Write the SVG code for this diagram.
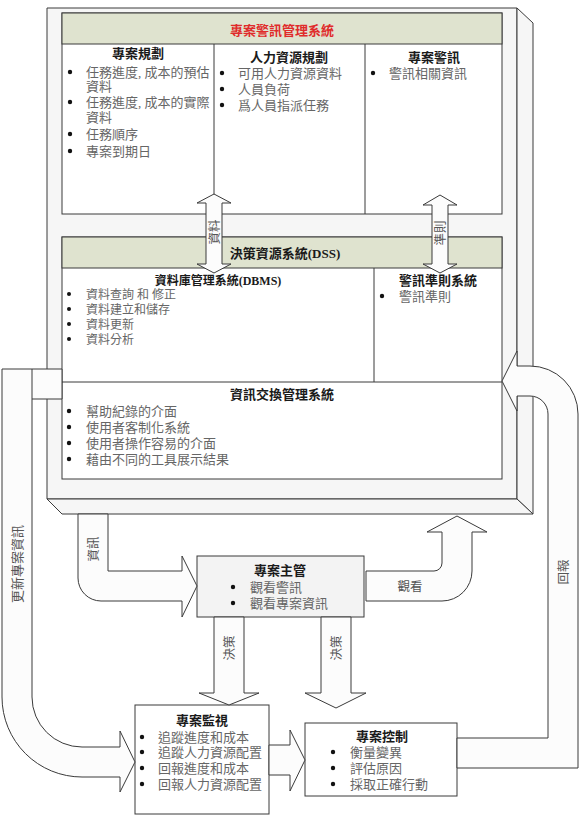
<svg xmlns="http://www.w3.org/2000/svg" width="581" height="821" viewBox="0 0 581 821">
<style>
.frame{fill:#f6f6f6;stroke:#3a3a3a;stroke-width:1}
.box{fill:#fff;stroke:#3a3a3a;stroke-width:1}
.gbox{fill:#f3f3f3;stroke:#3a3a3a;stroke-width:1}
.band{fill:#dfe3cf;stroke:#3a3a3a;stroke-width:1}
.ln{stroke:#3a3a3a;stroke-width:1;fill:none}
.arrow{fill:#fcfcfc;stroke:#3a3a3a;stroke-width:1;stroke-linejoin:miter}
text{font-family:"Liberation Serif","Noto Sans CJK TC",serif}
.h{font-weight:bold;fill:#1a1a1a;font-size:13px;text-anchor:middle}
.hs{font-size:12px}
.red{fill:#e02b2b}
.t{fill:#666;font-size:13px}
.ts{font-size:12px}
.lbl{fill:#555;font-size:12.5px;text-anchor:middle}
.b{fill:#111}
</style>
<g id="frame">
<polygon class="frame" points="47,8 517,8 517,499 47,499"/>
<polygon class="frame" points="517,8 533,23 533,514 517,499"/>
<polygon class="frame" points="47,499 517,499 533,514 62,514"/>
</g>
<g id="pams">
<rect class="box" x="62" y="13" width="440" height="201"/>
<rect class="band" x="62" y="13" width="440" height="31"/>
<text class="h red" x="282" y="35">專案警訊管理系統</text>
<line class="ln" x1="214" y1="44" x2="214" y2="214"/>
<line class="ln" x1="365" y1="44" x2="365" y2="214"/>
</g>
<g id="planning">
<text class="h" x="138" y="58">專案規劃</text>
<circle class="b" cx="70" cy="72" r="2.2"/><text class="t" x="86" y="77">任務進度, 成本的預估</text>
<text class="t" x="86" y="91">資料</text>
<circle class="b" cx="70" cy="102" r="2.2"/><text class="t" x="86" y="107">任務進度, 成本的實際</text>
<text class="t" x="86" y="122">資料</text>
<circle class="b" cx="70" cy="134" r="2.2"/><text class="t" x="86" y="139">任務順序</text>
<circle class="b" cx="70" cy="151" r="2.2"/><text class="t" x="86" y="156">專案到期日</text>
</g>
<g id="hr">
<text class="h" x="289" y="62">人力資源規劃</text>
<circle class="b" cx="222" cy="73" r="2.2"/><text class="t" x="238" y="78">可用人力資源資料</text>
<circle class="b" cx="222" cy="89" r="2.2"/><text class="t" x="238" y="94">人員負荷</text>
<circle class="b" cx="222" cy="105" r="2.2"/><text class="t" x="238" y="110">爲人員指派任務</text>
</g>
<g id="alert">
<text class="h" x="434" y="62">專案警訊</text>
<circle class="b" cx="373" cy="73" r="2.2"/><text class="t" x="389" y="78">警訊相關資訊</text>
</g>
<g id="dss">
<rect class="box" x="62" y="237" width="440" height="242"/>
<rect class="band" x="62" y="237" width="440" height="31"/>
<text class="h" x="285" y="258">決策資源系統(DSS)</text>
<line class="ln" x1="374" y1="268" x2="374" y2="382"/>
<line class="ln" x1="62" y1="382" x2="502" y2="382"/>
</g>
<g id="dbms">
<text class="h hs" x="218" y="284.5">資料庫管理系統(DBMS)</text>
<circle class="b" cx="69" cy="294" r="2"/><text class="t ts" x="86" y="298.5">資料查詢 和 修正</text>
<circle class="b" cx="69" cy="309" r="2"/><text class="t ts" x="86" y="313.5">資料建立和儲存</text>
<circle class="b" cx="69" cy="324" r="2"/><text class="t ts" x="86" y="328.5">資料更新</text>
<circle class="b" cx="69" cy="339" r="2"/><text class="t ts" x="86" y="343.5">資料分析</text>
</g>
<g id="rules">
<text class="h" x="438" y="285">警訊準則系統</text>
<circle class="b" cx="382" cy="296" r="2.2"/><text class="t" x="399" y="301">警訊準則</text>
</g>
<g id="exchange">
<text class="h" x="282" y="399">資訊交換管理系統</text>
<circle class="b" cx="69" cy="411" r="2.2"/><text class="t" x="86" y="416">幫助紀錄的介面</text>
<circle class="b" cx="69" cy="427" r="2.2"/><text class="t" x="86" y="432">使用者客制化系統</text>
<circle class="b" cx="69" cy="443" r="2.2"/><text class="t" x="86" y="448">使用者操作容易的介面</text>
<circle class="b" cx="69" cy="459" r="2.2"/><text class="t" x="86" y="464">藉由不同的工具展示結果</text>
</g>
<g id="manager">
<rect class="gbox" x="197" y="556" width="167" height="61"/>
<text class="h" x="280" y="575">專案主管</text>
<circle class="b" cx="233" cy="587" r="2.2"/><text class="t" x="250" y="592">觀看警訊</text>
<circle class="b" cx="233" cy="603" r="2.2"/><text class="t" x="250" y="608">觀看專案資訊</text>
</g>
<g id="monitor">
<rect class="box" x="135" y="705" width="134" height="109"/>
<text class="h" x="202" y="725">專案監視</text>
<circle class="b" cx="142" cy="737" r="2.2"/><text class="t" x="158" y="742">追蹤進度和成本</text>
<circle class="b" cx="142" cy="752" r="2.2"/><text class="t" x="158" y="757">追蹤人力資源配置</text>
<circle class="b" cx="142" cy="768" r="2.2"/><text class="t" x="158" y="773">回報進度和成本</text>
<circle class="b" cx="142" cy="784" r="2.2"/><text class="t" x="158" y="789">回報人力資源配置</text>
</g>
<g id="control">
<rect class="box" x="305" y="723" width="152" height="73"/>
<text class="h" x="382" y="741">專案控制</text>
<circle class="b" cx="333" cy="752" r="2.2"/><text class="t" x="350" y="757">衡量變異</text>
<circle class="b" cx="333" cy="768" r="2.2"/><text class="t" x="350" y="773">評估原因</text>
<circle class="b" cx="333" cy="784" r="2.2"/><text class="t" x="350" y="789">採取正確行動</text>
</g>
<g id="connectors">
<path class="arrow" d="M214,194 L231,203 H222 V264 H231 L214,273 L197,264 H206 V203 H197 Z"/>
<text class="lbl" transform="translate(214,232) rotate(-90)" y="4.5">資料</text>
<path class="arrow" d="M440,195 L457,205 H448 V264 H457 L440,273 L423,264 H432 V205 H423 Z"/>
<text class="lbl" transform="translate(440,233) rotate(-90)" y="4.5">準則</text>
<path class="arrow" d="M457,738 H548 V414 A18,18 0 0 0 530,396 H517 V411 L502,381 L517,351 V366 H530 A48,48 0 0 1 578,414 V768 H457 Z"/>
<text class="lbl" transform="translate(563,572) rotate(-90)" y="4.5">回報</text>
<path class="arrow" d="M62,369 H2 V697 A80,80 0 0 0 82,777 H120 V792 L135,762 L120,731 V747 H82 A50,50 0 0 1 32,697 V399 H62 Z"/>
<line class="ln" x1="32" y1="369" x2="32" y2="399"/>
<text class="lbl" style="font-size:13px" transform="translate(17,564) rotate(-90)" y="4.5">更新專案資訊</text>
<path class="arrow" d="M78,514 V578 A23,23 0 0 0 101,601 H182 V617 L197,586 L182,556 V571 H108 V514 Z"/>
<text class="lbl" transform="translate(93,549) rotate(-90)" y="4.5">資訊</text>
<path class="arrow" d="M366,571 H434 A8,8 0 0 0 442,563 V532 H427 L457,516 L487,532 H472 V571 A30,30 0 0 1 442,601 H366 Z"/>
<text class="lbl" x="410" y="591">觀看</text>
<path class="arrow" d="M214,617 V693 H199 L229,705 L259,693 H244 V617 Z"/>
<text class="lbl" transform="translate(229,648) rotate(-90)" y="4.5">決策</text>
<path class="arrow" d="M321,617 V693 H305 L336,708 L366,693 H351 V617 Z"/>
<text class="lbl" transform="translate(336,648) rotate(-90)" y="4.5">決策</text>
<path class="arrow" d="M269,745 H290 V730 L305,760 L290,791 V775 H269 Z"/>
</g>
</svg>
